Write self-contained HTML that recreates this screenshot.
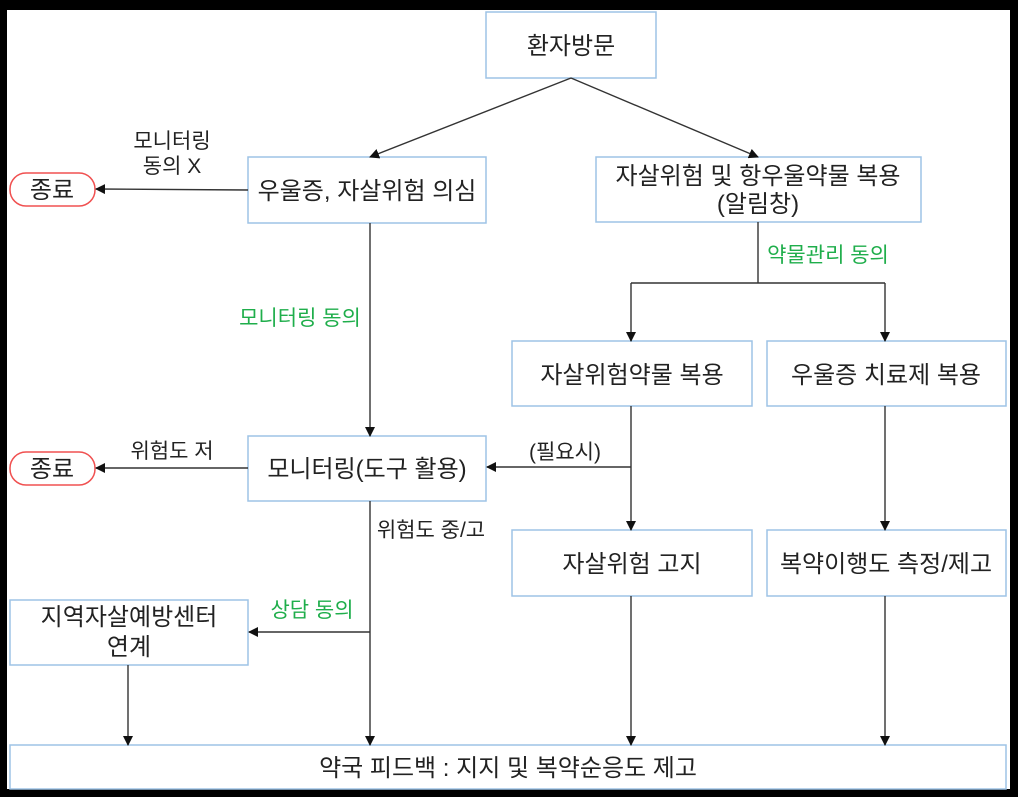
<!DOCTYPE html>
<html><head><meta charset="utf-8"><style>
html,body{margin:0;padding:0;background:#fff}
svg{display:block}
text{font-family:"Liberation Sans","Noto Sans CJK KR",sans-serif;fill:#222}
.b{fill:#fff;stroke:#9dc3e6;stroke-width:1.5}
.t{font-size:24px;text-anchor:middle}
.l{font-size:21px;text-anchor:middle}
.g{fill:#1fae4b}
.ln{stroke:#333;stroke-width:1.4;fill:none}
</style></head><body>
<svg width="1018" height="797" viewBox="0 0 1018 797">
<defs><marker id="a" markerWidth="10" markerHeight="10" refX="9" refY="5" orient="auto" markerUnits="userSpaceOnUse"><path d="M0,0 L10,5 L0,10 z" fill="#111"/></marker></defs>
<rect x="0" y="0" width="1018" height="797" fill="#000"/>
<rect x="7" y="10" width="1003" height="779" fill="#fff"/>

<rect class="b" x="486" y="12" width="170" height="66"/><text class="t" x="571" y="54">환자방문</text>
<rect class="b" x="248" y="157" width="238" height="66"/><text class="t" x="367" y="199">우울증, 자살위험 의심</text>
<rect class="b" x="596" y="157" width="325" height="65"/><text class="t" x="758" y="184">자살위험 및 항우울약물 복용</text><text class="t" x="758" y="212">(알림창)</text>
<rect class="b" x="512" y="341" width="240" height="65"/><text class="t" x="632" y="383">자살위험약물 복용</text>
<rect class="b" x="767" y="341" width="239" height="65"/><text class="t" x="886" y="383">우울증 치료제 복용</text>
<rect class="b" x="248" y="436" width="238" height="65"/><text class="t" x="367" y="477">모니터링(도구 활용)</text>
<rect class="b" x="512" y="530" width="240" height="66"/><text class="t" x="632" y="572">자살위험 고지</text>
<rect class="b" x="767" y="530" width="239" height="66"/><text class="t" x="886" y="572">복약이행도 측정/제고</text>
<rect class="b" x="10" y="600" width="238" height="65"/><text class="t" x="129" y="625">지역자살예방센터</text><text class="t" x="129" y="655">연계</text>
<rect class="b" x="10" y="745" width="996" height="44"/><text class="t" x="508" y="776">약국 피드백 : 지지 및 복약순응도 제고</text>

<rect x="10" y="173" width="85" height="33" rx="16" fill="#fff" stroke="#f05050" stroke-width="1.5"/><text class="t" x="52" y="198">종료</text>
<rect x="10" y="452" width="85" height="33" rx="16" fill="#fff" stroke="#f05050" stroke-width="1.5"/><text class="t" x="52" y="477">종료</text>

<path class="ln" d="M571,78 L370,157" marker-end="url(#a)"/>
<path class="ln" d="M571,78 L758,157" marker-end="url(#a)"/>
<path class="ln" d="M248,190 L96,189" marker-end="url(#a)"/>
<text class="l" x="172" y="148">모니터링</text><text class="l" x="172" y="173">동의 X</text>
<path class="ln" d="M370,223 L370,436" marker-end="url(#a)"/>
<text class="l g" x="300" y="325">모니터링 동의</text>
<path class="ln" d="M758,222 L758,283 M631,283 L885,283"/>
<path class="ln" d="M631,283 L631,341" marker-end="url(#a)"/>
<path class="ln" d="M885,283 L885,341" marker-end="url(#a)"/>
<text class="l g" x="828" y="262">약물관리 동의</text>
<path class="ln" d="M631,406 L631,530" marker-end="url(#a)"/>
<path class="ln" d="M631,467 L487,467" marker-end="url(#a)"/>
<text class="l" x="565" y="459">(필요시)</text>
<path class="ln" d="M885,406 L885,530" marker-end="url(#a)"/>
<path class="ln" d="M248,468 L96,468" marker-end="url(#a)"/>
<text class="l" x="172" y="458">위험도 저</text>
<path class="ln" d="M370,501 L370,745" marker-end="url(#a)"/>
<text class="l" x="431" y="537">위험도 중/고</text>
<path class="ln" d="M370,632 L249,632" marker-end="url(#a)"/>
<text class="l g" x="312" y="617">상담 동의</text>
<path class="ln" d="M128,665 L128,745" marker-end="url(#a)"/>
<path class="ln" d="M631,596 L631,745" marker-end="url(#a)"/>
<path class="ln" d="M885,596 L885,745" marker-end="url(#a)"/>
</svg>
</body></html>
